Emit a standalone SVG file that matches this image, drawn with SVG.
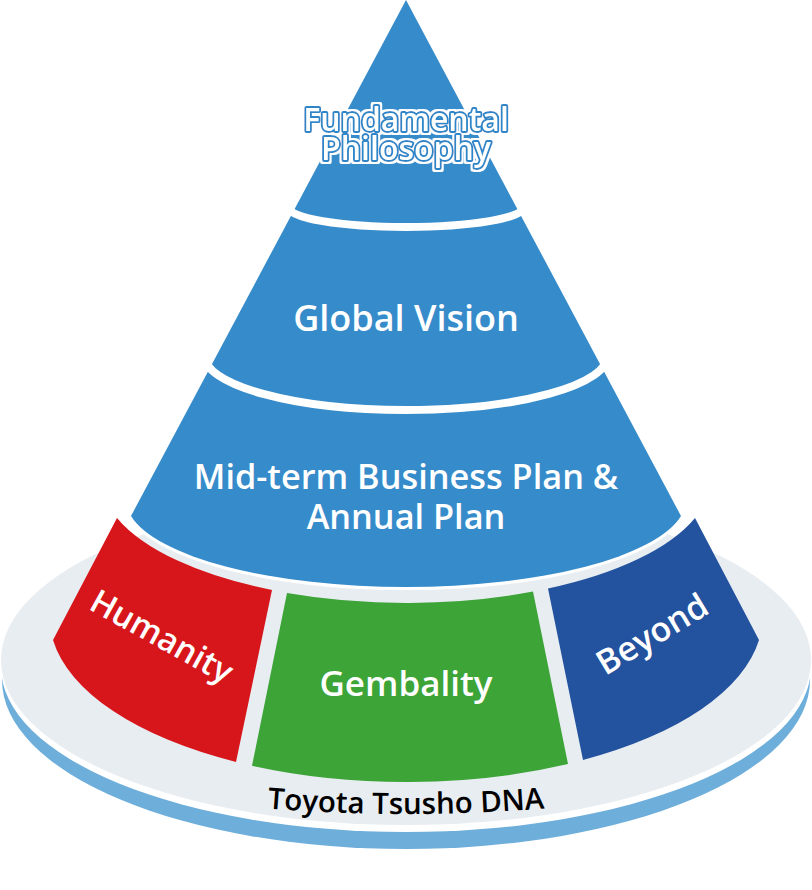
<svg xmlns="http://www.w3.org/2000/svg" width="812" height="890" viewBox="0 0 812 890">
<style>
  .lbl { font-family: "Open Sans", "Noto Sans", "DejaVu Sans", sans-serif; font-weight: 600; fill: #ffffff; text-anchor: middle; }
  .sep { fill: none; stroke: #ffffff; stroke-width: 8; }
  .outline { stroke: #2f86c8; stroke-width: 3.8; stroke-linejoin: round; paint-order: stroke; }
  .dna { font-family: "Open Sans", "Noto Sans", "DejaVu Sans", sans-serif; font-weight: 600; font-size: 29.5px; fill: #000000; text-anchor: middle; }
</style>
<defs>
  <path id="dnaArc" d="M 220,804 Q 406,824 592,804"/>
  <filter id="whiteHalo" x="-10%" y="-40%" width="120%" height="180%">
    <feMorphology in="SourceAlpha" operator="dilate" radius="1.8" result="grown"/>
    <feFlood flood-color="#ffffff"/>
    <feComposite in2="grown" operator="in" result="haloFill"/>
    <feMerge>
      <feMergeNode in="haloFill"/>
      <feMergeNode in="SourceGraphic"/>
    </feMerge>
  </filter>
</defs>
<rect width="812" height="890" fill="#ffffff"/>

<g id="base">
  <ellipse cx="406" cy="680" rx="404" ry="169" fill="#6eaedb"/>
  <ellipse cx="406" cy="667" rx="405" ry="165" fill="#ffffff"/>
  <ellipse cx="406" cy="660" rx="405" ry="165" fill="#e8edf2"/>
  <text class="dna"><textPath href="#dnaArc" startOffset="50%">Toyota Tsusho DNA</textPath></text>
</g>

<g id="humanity">
  <path d="M117,518 A305 125 0 0 0 272,590 L236,762 A356.5 165 0 0 1 53,640 Z" fill="#d7161b"/>
  <text class="lbl" font-size="33" transform="translate(162,636) rotate(29)" x="0" y="12">Humanity</text>
</g>

<g id="gembality">
  <path d="M287,593 A305 125 0 0 0 533,591.6 L568,764 A356.5 165 0 0 1 252,765.8 Z" fill="#3da437"/>
  <text class="lbl" font-size="35" x="406" y="696">Gembality</text>
</g>

<g id="beyond">
  <path d="M548,588.6 A305 125 0 0 0 695,518 L759,640 A356.5 165 0 0 1 583,760 Z" fill="#23529e"/>
  <text class="lbl" font-size="34" transform="translate(652,634) rotate(-31)" x="0" y="12">Beyond</text>
</g>

<g id="cone">
  <path d="M406,0 L131,516 A280 87.5 0 0 0 681,516 Z" fill="#368bca" stroke="#ffffff" stroke-width="6" paint-order="stroke"/>
</g>

<g id="separators">
  <path class="sep" d="M288,207 A118 20 0 0 0 524,207"/>
  <path class="sep" d="M204,355 A202 55 0 0 0 608,355"/>
</g>

<g id="fundamental-philosophy" filter="url(#whiteHalo)">
  <text class="lbl outline" font-size="32" x="406" y="131">Fundamental</text>
  <text class="lbl outline" font-size="32" x="406" y="160">Philosophy</text>
</g>

<g id="global-vision">
  <text class="lbl" font-size="36" x="406" y="331">Global Vision</text>
</g>

<g id="midterm">
  <text class="lbl" font-size="34.3" x="406" y="489">Mid-term Business Plan &amp;</text>
  <text class="lbl" font-size="34.3" x="406" y="529">Annual Plan</text>
</g>
</svg>
